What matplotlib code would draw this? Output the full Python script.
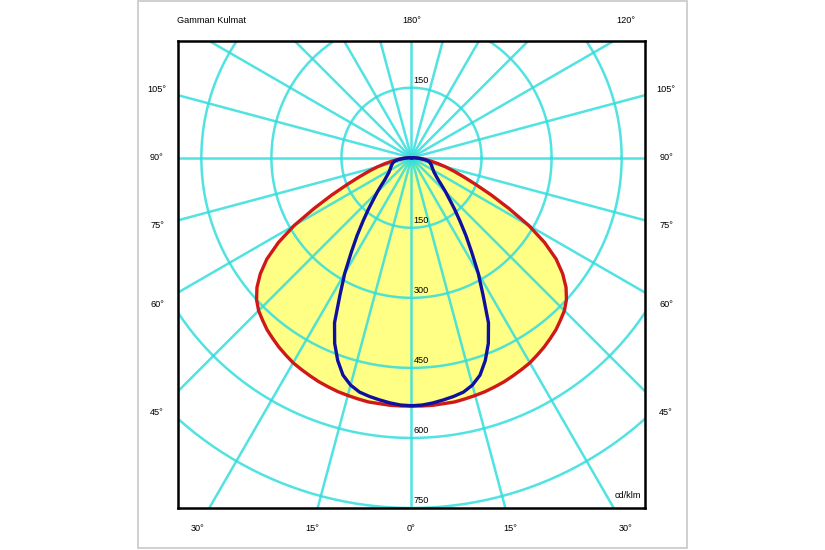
import numpy as np
import matplotlib
matplotlib.use("Agg")
import matplotlib.pyplot as plt
from matplotlib.patches import Rectangle

plt.rcParams['font.family'] = ['Liberation Sans', 'DejaVu Sans']

# gamma angle from nadir (deg) and intensity in cd/klm
gamma = [0, 2.5, 5, 7.5, 10, 12.5, 15, 17.5, 20, 22.5, 25, 27.5, 30, 32.5, 35, 37.5,
         40, 42.5, 45, 47.5, 50, 52.5, 55, 57.5, 60, 62.5, 65, 67.5, 70, 72.5, 75, 77.5,
         80, 82.5, 85, 87.5, 90, 92.5, 95]
red_c0 = [532, 532, 532, 531, 531, 529, 527, 525, 522, 519, 515, 511, 507, 501, 495, 488,
          481, 472, 463, 450, 432, 408, 378, 338, 290, 235, 188, 148, 118, 95, 76, 58,
          43, 31, 20, 11, 6, 2, 0]
blue_c90 = [531, 530, 527, 523, 519, 514, 504, 488, 462, 430, 390, 332, 286, 240, 203, 170,
            143, 120, 103, 88, 76, 68, 62, 57, 54, 51, 49, 47, 45, 43, 41, 38,
            34, 27, 18, 10, 5, 2, 0]

rings = [150, 300, 450, 600, 750]
ring_labels = ["150", "300", "450", "600", "750"]
spoke_step = 15

left_angles = [105, 90, 75, 60, 45]
bottom_angles = [30, 15, 0, 15, 30]
bottom_signs = [-1, -1, 0, 1, 1]

fig = plt.figure(figsize=(8.25, 5.5), dpi=100)
ax = fig.add_axes([178/825, 42/550, 467/825, 467/550])
ax.set_xlim(-500, 500)
ax.set_ylim(-750, 250)
ax.set_xticks([])
ax.set_yticks([])
for s in ax.spines.values():
    s.set_linewidth(1.8)
    s.set_color('black')
    s.set_zorder(10)


def curve(vals):
    g = np.radians(np.array(gamma, dtype=float))
    r = np.array(vals, dtype=float)
    xs = np.concatenate([-(r * np.sin(g))[::-1], r * np.sin(g)])
    ys = np.concatenate([(-r * np.cos(g))[::-1], -r * np.cos(g)])
    return xs, ys


rx, ry = curve(red_c0)
bx, by = curve(blue_c90)

ax.fill(rx, ry, color='#ffff85', zorder=1, lw=0)

grid_col = '#33dddd'
t = np.linspace(0, 2 * np.pi, 400)
for r in rings:
    ax.plot(r * np.cos(t), r * np.sin(t), color=grid_col, lw=1.8, alpha=0.85, zorder=2)
for a in range(0, 360, spoke_step):
    ar = np.radians(a)
    ax.plot([0, 1200 * np.sin(ar)], [0, -1200 * np.cos(ar)], color=grid_col, lw=1.8, alpha=0.85, zorder=2)

ax.plot(rx, ry, color='#d01818', lw=2.4, zorder=4, solid_joinstyle='round')
ax.plot(bx, by, color='#1010a0', lw=2.4, zorder=5, solid_joinstyle='round')

fs = 6.6
# ring labels
for r, lab in zip(rings, ring_labels):
    ax.text(4, -r + 6, lab, fontsize=fs, ha='left', va='bottom', zorder=6)
ax.text(4, rings[0] + 6, ring_labels[0], fontsize=fs, ha='left', va='bottom', zorder=6)
ax.text(492, -732, "cd/klm", fontsize=fs, ha='right', va='bottom', zorder=6)

# angle labels outside the frame
xl, yb, yt = 545, -793, 294
for a in left_angles:
    y = -xl / np.tan(np.radians(a)) if a != 90 else 0
    ax.text(-xl, y, f"{a}°", fontsize=fs, ha='center', va='center', clip_on=False)
    ax.text(xl, y, f"{a}°", fontsize=fs, ha='center', va='center', clip_on=False)
for a, sgn in zip(bottom_angles, bottom_signs):
    x = sgn * -yb * np.tan(np.radians(a))
    ax.text(x, yb, f"{a}°", fontsize=fs, ha='center', va='center', clip_on=False)
ax.text(0, yt, "180°", fontsize=fs, ha='center', va='center', clip_on=False)
ax.text(458, yt, "120°", fontsize=fs, ha='center', va='center', clip_on=False)
ax.text(-503, yt, "Gamman Kulmat", fontsize=fs, ha='left', va='center', clip_on=False)

fig.patches.append(Rectangle((138/825, 2/550), 549/825, 547/550, transform=fig.transFigure,
                             fill=False, edgecolor='#c8c8c8', lw=1.2))

fig.savefig("out.png", dpi=100)
